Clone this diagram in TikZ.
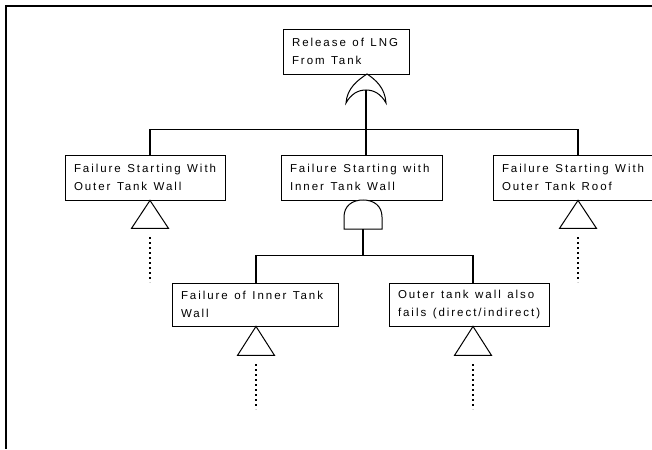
\documentclass[tikz,border=0pt]{standalone}
\usepackage{fontspec}
\newfontfamily\labelfont{Liberation Sans}[LetterSpace=17]
\newcommand\evfont{\labelfont\fontsize{11.5}{18.5}\selectfont}
% wide word gap used between words in the event labels
\newcommand\wg{\hspace{6.5pt}}
\begin{document}
\begin{tikzpicture}[x=1pt,y=-1pt,
  event/.style={draw, line width=0.8pt, inner xsep=9pt, inner ysep=0pt,
    align=left, font=\evfont,
    minimum height=45pt, anchor=center},
  wire/.style={line width=1.1pt},
  gate/.style={line width=1pt, fill=white},
  tri/.style={line width=1pt},
  dots/.style={line width=1.1pt, dash pattern=on 1.2pt off 3.8pt},
  frame/.style={line width=1.4pt}]
\useasboundingbox (0,0) rectangle (652,449);
\clip (0,0) rectangle (652,449);

% outer frame (top and left edges)
\draw[frame] (652,6) -- (6,6) -- (6,449);

% events
\node[event, text width=108pt] (T) at (346,51.5) {\mbox{Release\wg of\wg LNG}\\\mbox{From\wg Tank}};
\node[event, text width=142pt] (A) at (145,177.5) {\mbox{Failure\wg Starting\wg With}\\\mbox{Outer\wg Tank\wg Wall}};
\node[event, text width=143pt] (B) at (361.5,177.5) {\mbox{Failure\wg Starting\wg with}\\\mbox{Inner\wg Tank\wg Wall}};
\node[event, text width=148pt] (C) at (576,177.5) {\mbox{Failure\wg Starting\wg With}\\\mbox{Outer\wg Tank\wg Roof}};
\node[event, text width=148pt, minimum height=43pt] (D) at (255,304.5) {\mbox{Failure\wg of\wg Inner\wg Tank}\\\mbox{Wall}};
\node[event, text width=142pt, minimum height=43pt] (E) at (469,304.5) {\mbox{Outer\wg tank\wg wall\wg also}\\\mbox{fails\wg (direct/indirect)}};

% OR gate below the top event
\coordinate (gOR) at (366,90);
\draw[gate] (367,74) .. controls (358,80) and (347,88) .. (346,103)
  .. controls (351,94) and (358,90) .. (gOR)
  .. controls (374,90) and (381,94) .. (386,103)
  .. controls (385,88) and (376,80) .. (367,74) -- cycle;

% AND gate below the inner-wall event
\coordinate (gAND) at (363,229);
\draw[gate] (344,229) -- (344,217) .. controls (344,206) and (352,200) .. (363,200)
  .. controls (374,200) and (382,206) .. (382,217) -- (382,229) -- cycle;

% first level connectors
\draw[wire] (gOR) -- (B.north -| gOR);
\draw[wire] ([xshift=5pt]A.north) -- ++(0,-25) -| ([xshift=2pt]C.north);

% second level connectors
\draw[wire] (gAND) -- ++(0,27);
\draw[wire] ([xshift=1pt]D.north) -- ++(0,-27) -| ([xshift=4pt]E.north);

% transfer triangles with dotted continuations
\foreach \n/\dx/\h in {A/5/28, C/2/28, D/1/29, E/4/29}{
  \draw[tri] ([xshift=\dx pt]\n.south) -- ++(-18.5,\h) -- ++(37,0) -- cycle;
  \draw[dots] ([xshift=\dx pt]\n.south) ++(0,\h+9) -- ++(0,45);
}
\end{tikzpicture}
\end{document}
